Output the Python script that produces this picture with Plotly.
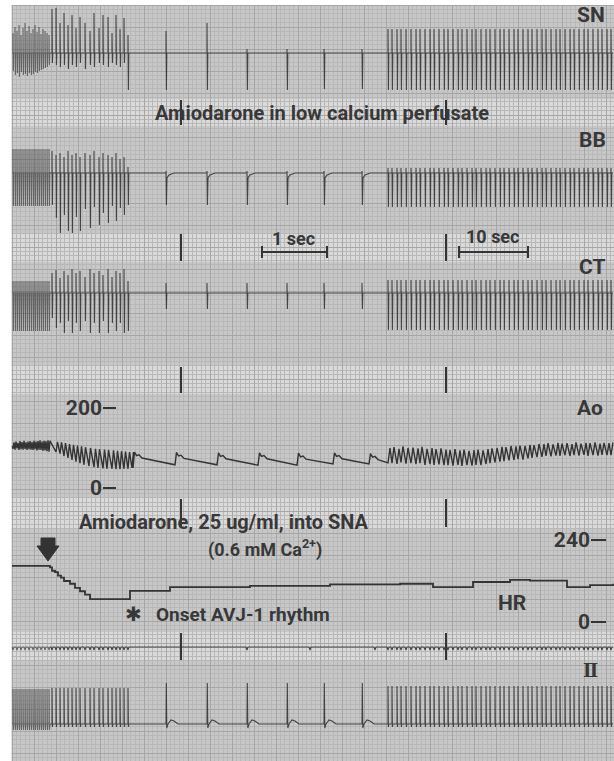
import plotly.graph_objects as go

FONT = "Roboto, Liberation Sans, DejaVu Sans, sans-serif"
INK = "#343434"
SPIKE = "rgba(45,45,45,0.85)"
BLOB = "rgba(60,60,60,0.7)"
TXT = "#383838"

# ---------------- beat times (position along the strip) ----------------
blob_beats = [13, 15, 17, 19, 21, 23, 25, 27, 29, 31, 33, 35, 37, 39, 41, 43, 45, 47, 49]
early_beats = [52, 56, 60, 64, 68, 72, 76, 80, 85, 90, 94, 99, 103, 108, 112, 116, 120, 124, 128]
slow_beats = [166, 207, 247, 287, 324, 362]
dense_beats = [388, 392, 397, 401, 406, 411, 416, 420, 425, 430, 434, 439, 444, 448, 453, 458,
               462, 467, 472, 476, 481, 486, 490, 495, 500, 504, 509, 514, 518, 523, 528, 532,
               537, 542, 546, 551, 556, 560, 565, 570, 574, 579, 584, 588, 593, 598, 602, 607, 611]
marker_slow = [247, 310, 375]
event_times = [181, 446]

# ---------------- electrogram amplitudes (up / down deflection) ----------------
sn_blob_up = [20, 26, 22, 28, 18, 25, 30, 22, 27, 20, 24, 28, 21, 26, 19, 24, 22, 20, 18]
sn_blob_dn = [18, 22, 20, 24, 19, 22, 21, 23, 20, 22, 21, 19, 20, 18, 17, 16, 15, 14, 12]
sn_early_up = [44, 45, 30, 40, 28, 38, 25, 36, 30, 22, 40, 25, 38, 36, 20, 38, 24, 35, 18]
sn_early_dn = [10, 12, 14, 12, 16, 12, 14, 10, 16, 12, 14, 10, 12, 14, 10, 12, 14, 10, 37]
sn_slow_up = [22, 30, 4, 4, 4, 4]
sn_slow_dn = [37, 37, 37, 37, 36, 36]
sn_dense_up, sn_dense_dn = 24, 37

bb_blob_up, bb_blob_dn = 24, 33
bb_early_up = [22, 18, 20, 16, 22, 18, 20, 16, 20, 18, 22, 16, 20, 18, 16, 20, 14, 16, 6]
bb_early_dn = [32, 45, 60, 42, 58, 60, 44, 58, 36, 55, 34, 52, 40, 50, 33, 48, 35, 42, 32]
bb_slow_up, bb_slow_dn = 2, 32
bb_dense_up, bb_dense_dn = 5, 34

ct_blob_up, ct_blob_dn = 12, 38
ct_early_up = [20, 23, 15, 22, 18, 24, 20, 22, 16, 24, 20, 22, 18, 24, 16, 22, 20, 24, 12]
ct_early_dn = [25, 35, 30, 40, 28, 40, 30, 38, 28, 40, 30, 40, 28, 40, 30, 38, 30, 40, 38]
ct_slow_up, ct_slow_dn = 10, 16
ct_dense_up, ct_dense_dn = 13, 37

ecg_blob_up, ecg_blob_dn = 35, 6
ecg_early_up, ecg_early_dn = 36, 3
ecg_slow_up, ecg_slow_dn = 41, 4
ecg_dense_up, ecg_dense_dn = 38, 3

mark_depth = 3

# ---------------- aortic pressure (mmHg) ----------------
ao_blob_sys = [114, 116, 113, 117, 115, 118, 114, 116, 117, 115, 118, 116, 117, 119, 116, 118, 117, 119, 118]
ao_blob_dia = [98, 96, 99, 95, 97, 96, 98, 95, 97, 96, 95, 97, 94, 96, 95, 93, 94, 92, 91]
ao_early_sys = [115, 114, 112, 110, 108, 106, 104, 102, 100, 98, 97, 96, 95, 94, 93, 92, 91, 90, 90]
ao_early_dia = [90, 86, 80, 75, 70, 66, 62, 58, 55, 52, 50, 49, 48, 48, 47, 47, 48, 48, 50]
ao_slow_beats = [133, 175, 217, 258, 297, 333, 369]
ao_slow_sys = [90, 89, 88, 88, 87, 88, 86]
ao_slow_dia = [50, 58, 58, 57, 57, 60, 60]
ao_dense_sys = [100, 102, 98, 104, 100, 101, 99, 103, 98, 100, 97, 99, 96,
                95, 97, 94, 96, 93, 95, 96, 94, 97, 99,
                100, 103, 102, 105, 104, 106, 105, 108, 107, 110,
                110, 112, 109, 113, 111, 112, 110, 114, 111, 113, 112, 114, 111, 113, 112, 114]
ao_dense_dia = [63, 62, 60, 64, 61, 62, 60, 62, 58, 60, 58, 59, 57,
                57, 56, 58, 55, 57, 56, 58, 57, 60, 62,
                64, 66, 67, 69, 70, 72, 71, 74, 75, 77,
                78, 80, 79, 81, 80, 82, 80, 82, 81, 83, 80, 82, 81, 83, 82, 82]

# ---------------- heart rate (beats/min) ----------------
hr_x = [12, 47, 50, 52, 55, 58, 61, 64, 70, 75, 80, 85, 90, 128, 130, 167, 170, 250, 330, 400, 433, 473, 510, 530, 567, 590, 613]
hr_bpm = [164, 164, 160, 150, 146, 136, 130, 120, 112, 100, 90, 80, 67, 67, 91, 91, 102, 106, 110, 112, 102, 117, 123, 121, 102, 108, 112]

# ---------------- strip layout (pixel rows of the paper) ----------------
W, H = 614, 761
SN_BASE, BB_BASE, CT_BASE, MARK_BASE, ECG_BASE = 53, 173, 293, 647, 724
bands = [(99, 126), (233, 262), (366, 394), (498, 528), (632, 661)]
AO_ZERO_ROW, AO_PX_PER_MMHG = 488, 0.4
HR_ZERO_ROW, HR_PX_PER_BPM = 622, 82 / 240


def pick(v, i):
    return v[i] if isinstance(v, (list, tuple)) else v


def electrogram(base, segments, x0, x1):
    xs, ys = [x0], [base]
    for beats, up, dn, kind in segments:
        for i, t in enumerate(beats):
            u, d = pick(up, i), pick(dn, i)
            if kind == "bb":
                xs += [t, t, t + 0.4, t + 1.0, t + 3, t + 8]
                ys += [base, base - u, base + d, base + 5, base + 2, base]
            elif kind == "ecg":
                xs += [t, t + 0.3, t + 0.8, t + 2, t + 5, t + 8, t + 12]
                ys += [base, base - u, base + d, base, base - 4, base - 3, base]
            elif kind == "dip":
                xs += [t - 1, t, t + 1]
                ys += [base, base + d, base]
            else:
                xs += [t, t, t + 0.4, t + 0.8]
                ys += [base, base - u, base + d, base]
    xs.append(x1)
    ys.append(base)
    return xs, ys


fig = go.Figure()

channels = [
    (SN_BASE, (blob_beats, sn_blob_up, sn_blob_dn, "p"),
     [(early_beats, sn_early_up, sn_early_dn, "p"),
      (slow_beats, sn_slow_up, sn_slow_dn, "p"), (dense_beats, sn_dense_up, sn_dense_dn, "p")]),
    (BB_BASE, (blob_beats, bb_blob_up, bb_blob_dn, "p"),
     [(early_beats, bb_early_up, bb_early_dn, "p"),
      (slow_beats, bb_slow_up, bb_slow_dn, "bb"), (dense_beats, bb_dense_up, bb_dense_dn, "p")]),
    (CT_BASE, (blob_beats, ct_blob_up, ct_blob_dn, "p"),
     [(early_beats, ct_early_up, ct_early_dn, "p"),
      (slow_beats, ct_slow_up, ct_slow_dn, "p"), (dense_beats, ct_dense_up, ct_dense_dn, "p")]),
    (MARK_BASE, (blob_beats[::2], 0, mark_depth, "dip"),
     [(early_beats, 0, mark_depth, "dip"),
      (marker_slow, 0, mark_depth, "dip"), (dense_beats, 0, mark_depth, "dip")]),
    (ECG_BASE, (blob_beats, ecg_blob_up, ecg_blob_dn, "p"),
     [(early_beats, ecg_early_up, ecg_early_dn, "p"),
      (slow_beats, ecg_slow_up, ecg_slow_dn, "ecg"), (dense_beats, ecg_dense_up, ecg_dense_dn, "p")]),
]
for base, blob_seg, segs in channels:
    bx, by = electrogram(base, [blob_seg], 12, 50)
    fig.add_trace(go.Scatter(x=bx, y=by, mode="lines", line=dict(color=BLOB, width=1.1),
                             hoverinfo="skip", showlegend=False))
    xs, ys = electrogram(base, segs, 50, 613)
    fig.add_trace(go.Scatter(x=xs, y=ys, mode="lines", line=dict(color=SPIKE, width=1.1),
                             hoverinfo="skip", showlegend=False))

# aortic pressure waveform
ax, ap = [12], [105]
for t, s, d in zip(blob_beats, ao_blob_sys, ao_blob_dia):
    ax += [t, t + 1]
    ap += [d, s]
for t, s, d in zip(early_beats, ao_early_sys, ao_early_dia):
    ax += [t + 4, t + 5.5]
    ap += [d, s]
for t, s, d in zip(ao_slow_beats, ao_slow_sys, ao_slow_dia):
    ax += [t, t + 1.5, t + 3.5, t + 6, t + 9]
    ap += [d, s, s - 9, s - 7, s - 15]
for t, s, d in zip(dense_beats, ao_dense_sys, ao_dense_dia):
    ax += [t, t + 2]
    ap += [d, s]
fig.add_trace(go.Scatter(x=ax, y=ap, yaxis="y2", mode="lines", line=dict(color=INK, width=1.4),
                         hoverinfo="skip", showlegend=False))

fig.add_trace(go.Scatter(x=hr_x, y=hr_bpm, yaxis="y3", mode="lines", line=dict(color=INK, width=1.8),
                         line_shape="hv", hoverinfo="skip", showlegend=False))

# ---------------- shapes ----------------
shapes = []
for y0, y1 in bands:
    shapes.append(dict(type="rect", xref="x", yref="y", x0=0, x1=W, y0=y0, y1=y1,
                       fillcolor="#dadada", line_width=0, layer="below"))
for et in event_times:
    for y0, y1 in bands:
        shapes.append(dict(type="line", xref="x", yref="y", x0=et, x1=et, y0=y0 + 1, y1=y1 - 1,
                           line=dict(color=INK, width=2)))
# white scan margins
shapes.append(dict(type="rect", xref="x", yref="y", x0=0, x1=11.5, y0=0, y1=H, fillcolor="white",
                   line_width=0, layer="above"))
shapes.append(dict(type="rect", xref="x", yref="y", x0=0, x1=W, y0=0, y1=5, fillcolor="white",
                   line_width=0, layer="above"))
# time scale bars
for xa, xb in [(262, 327), (459, 528)]:
    shapes.append(dict(type="path", xref="x", yref="y",
                       path=f"M {xa} 246 L {xa} 258 M {xa} 252 L {xb} 252 M {xb} 246 L {xb} 258",
                       line=dict(color=INK, width=2)))
# injection arrow
shapes.append(dict(type="path", xref="x", yref="y",
                   path="M 41 538 L 55 538 L 55 546 L 59 546 L 48 561 L 37 546 L 41 546 Z",
                   fillcolor="#333333", line=dict(color="#333333", width=1)))


# ---------------- text ----------------
def ann(text, x, y, size, xanchor="center", family=FONT):
    return dict(text=text, x=x, y=y, xref="x", yref="y", showarrow=False, xanchor=xanchor,
                yanchor="middle", font=dict(family=family, size=size, color=TXT))


def B(s):
    return f"<b>{s}</b>"


annotations = [
    ann(B("Amiodarone in low calcium perfusate"), 322, 113, 20),
    ann(B("1 sec"), 293, 238, 18),
    ann(B("10 sec"), 492, 236, 18),
    ann(B("SN"), 591, 15, 21),
    ann(B("BB"), 592, 140, 21),
    ann(B("CT"), 592, 267, 21),
    ann(B("Ao"), 590, 408, 21),
    ann(B("HR"), 512, 603, 21),
    ann(B("Ⅱ"), 590, 670, 18, family="DejaVu Serif, DejaVu Sans, serif"),
    ann(B("Amiodarone, 25 ug/ml, into SNA"), 224, 522, 20),
    ann(B("(0.6 mM Ca<sup>2+</sup>)"), 265, 548, 18),
    ann("✱", 133, 614, 20, family="DejaVu Sans, sans-serif"),
    ann(B("Onset AVJ-1 rhythm"), 154, 614, 19, xanchor="left"),
]

grid = dict(showgrid=True, gridcolor="#a6a6a6", gridwidth=1, zeroline=False, showticklabels=False,
            ticks="", showline=False)
fig.update_layout(
    width=W, height=H, margin=dict(l=0, r=0, t=0, b=0),
    paper_bgcolor="white", plot_bgcolor="#c7c7c7",
    xaxis=dict(range=[0, W], dtick=22, tick0=12,
               minor=dict(dtick=4.4, tick0=12, showgrid=True, gridcolor="#b8b8b8", gridwidth=1), **grid),
    yaxis=dict(range=[H, 0], dtick=22, tick0=5,
               minor=dict(dtick=4.4, tick0=5, showgrid=True, gridcolor="#b8b8b8", gridwidth=1), **grid),
    yaxis2=dict(overlaying="y", anchor="free", position=102 / W, side="left",
                range=[(AO_ZERO_ROW - H) / AO_PX_PER_MMHG, AO_ZERO_ROW / AO_PX_PER_MMHG],
                tickvals=[0, 200], ticktext=[B("0"), B("200")],
                ticks="inside", ticklen=13, tickwidth=2, tickcolor=INK,
                tickfont=dict(family=FONT, size=21, color=TXT),
                showgrid=False, zeroline=False, showline=False),
    yaxis3=dict(overlaying="y", anchor="free", position=590 / W, side="left",
                range=[(HR_ZERO_ROW - H) / HR_PX_PER_BPM, HR_ZERO_ROW / HR_PX_PER_BPM],
                tickvals=[0, 240], ticktext=[B("0"), B("240")],
                ticks="inside", ticklen=15, tickwidth=2, tickcolor=INK,
                tickfont=dict(family=FONT, size=21, color=TXT),
                showgrid=False, zeroline=False, showline=False),
    shapes=shapes, annotations=annotations,
)

fig.write_html("out.html", config={"displayModeBar": False},
               post_script="document.body.style.margin='0';")
